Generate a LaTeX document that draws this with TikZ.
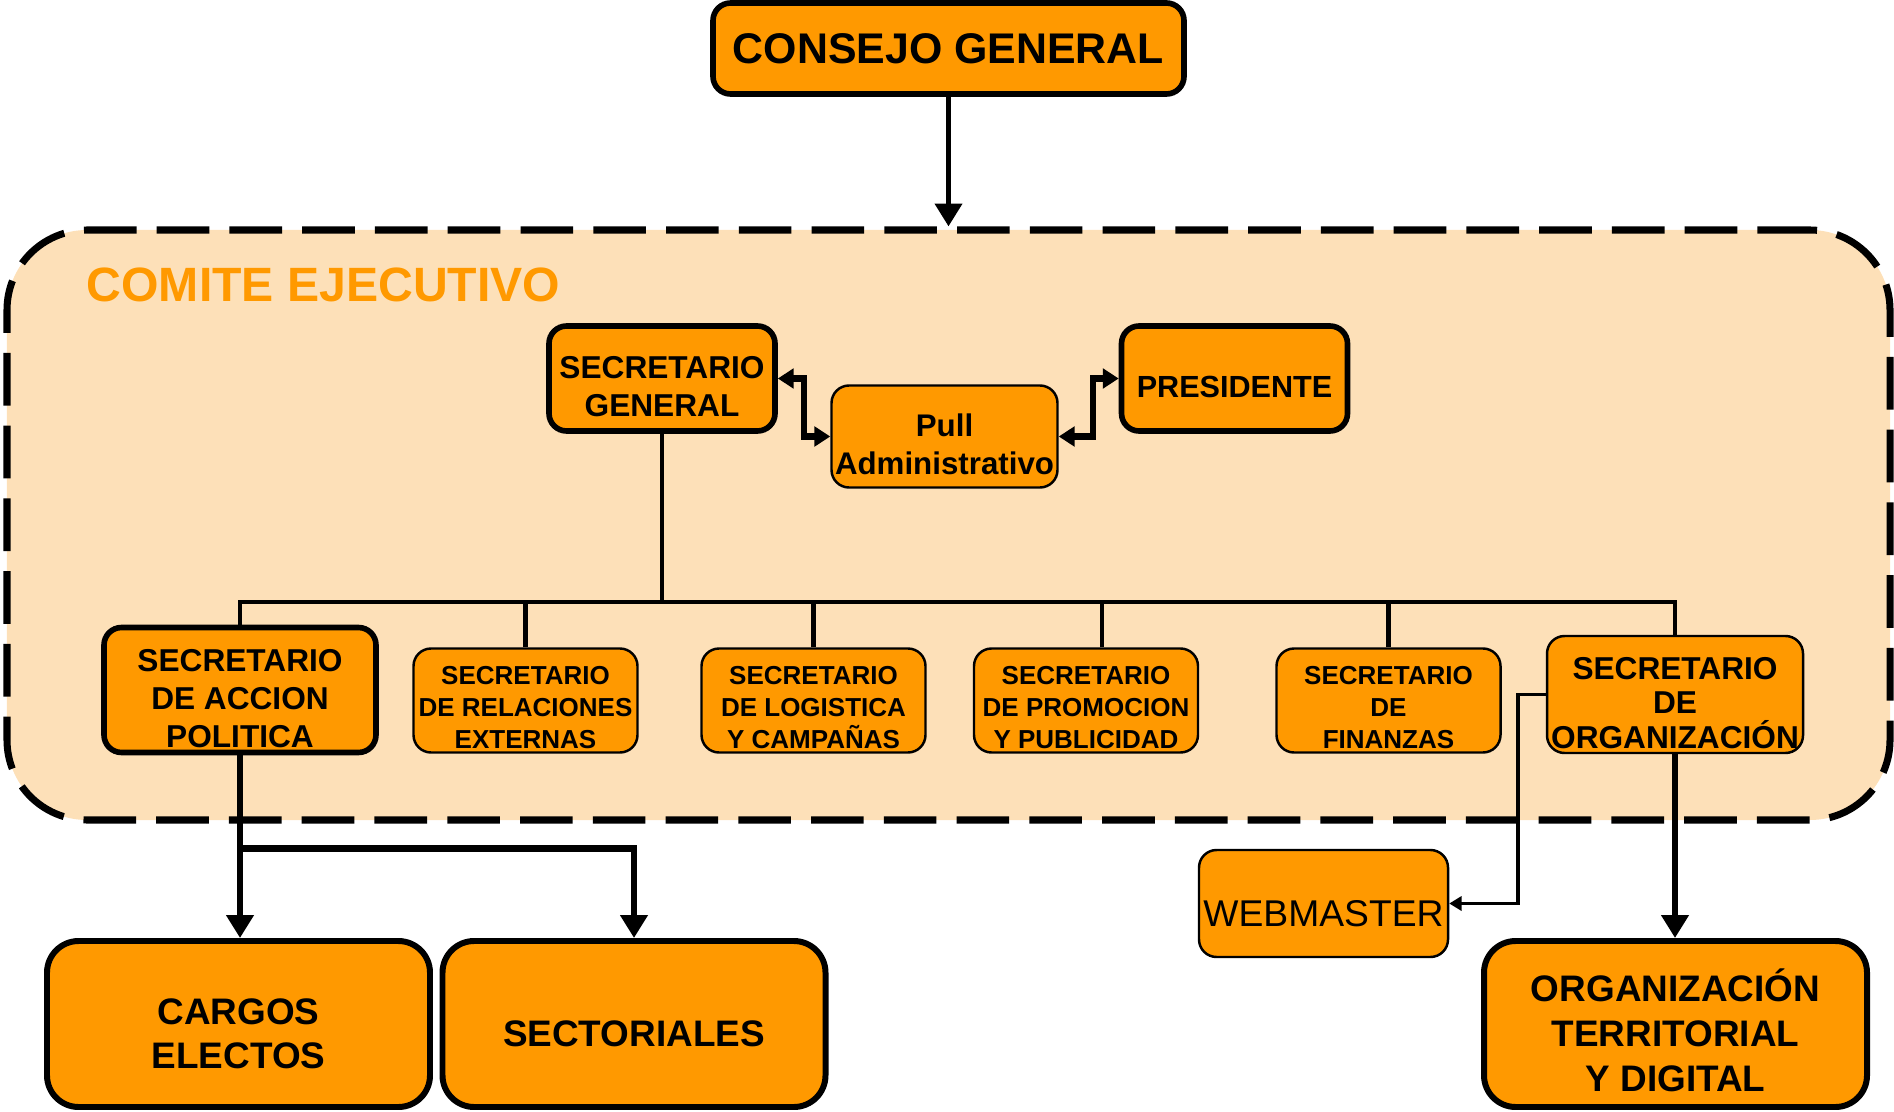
\documentclass[tikz,border=0pt]{standalone}
\usepackage{fontspec}
\setmainfont{Liberation Sans}
\usetikzlibrary{arrows.meta}
\definecolor{naranja}{RGB}{255,153,0}
\definecolor{fondo}{RGB}{253,224,184}
\newcommand{\bajar}{\rule{0pt}{1.22em}}
\tikzset{
	gruesa/.style={draw=black, line width=1.6pt, fill=naranja, rounded corners=5pt, inner sep=0pt, align=center, font=\bfseries},
	fina/.style={draw=black, line width=0.7pt, fill=naranja, rounded corners=5pt, inner sep=0pt, align=center, font=\bfseries},
	grande/.style={draw=black, line width=1.7pt, fill=naranja, rounded corners=9pt, inner sep=0pt, align=center, minimum width=3.83cm, minimum height=1.66cm},
	rama/.style={line width=1.4pt},
	flecha/.style={line width=1.9pt, -{Triangle[length=6.5pt,width=7.5pt]}},
	doble/.style={line width=1.8pt, {Triangle[length=4.5pt,width=5.5pt]}-{Triangle[length=4.5pt,width=5.5pt]}}
}
\begin{document}
	\begin{tikzpicture}
		\useasboundingbox (0,0) rectangle (18.94,-11.12);
		% comite ejecutivo
		\node[draw=black, fill=fondo, line width=2pt, dash pattern=on 15pt off 5.7pt, rounded corners=0.8cm, minimum width=18.83cm, minimum height=5.9cm] (comite) at (9.485,-5.25) {};
		\node[anchor=base west, inner sep=0pt, text=naranja, font=\bfseries\fontsize{13.7}{16}\selectfont] (titulo) at (0.86,-3.02) {COMITE EJECUTIVO};
		% arriba
		\node[gruesa, minimum width=4.71cm, minimum height=0.91cm, font=\bfseries\fontsize{12.2}{14}\selectfont] (consejo) at (9.485,-0.485) {CONSEJO GENERAL};
		\node[gruesa, minimum width=2.26cm, minimum height=1.05cm, font=\bfseries\fontsize{9}{10.7}\selectfont] (general) at (6.62,-3.785) {\bajar SECRETARIO\\GENERAL};
		\node[fina, minimum width=2.26cm, minimum height=1.02cm, font=\bfseries\fontsize{8.9}{11}\selectfont] (pull) at (9.445,-4.365) {\bajar Pull\\Administrativo};
		\node[gruesa, minimum width=2.26cm, minimum height=1.05cm, font=\bfseries\fontsize{8.7}{10.5}\selectfont] (presidente) at (12.345,-3.785) {\bajar PRESIDENTE};
		% secretarias
		\node[gruesa, minimum width=2.72cm, minimum height=1.25cm, font=\bfseries\fontsize{9}{10.8}\selectfont] (accion) at (2.40,-6.90) {\bajar SECRETARIO\\DE ACCION\\POLITICA};
		\node[fina, minimum width=2.24cm, minimum height=1.04cm, font=\bfseries\fontsize{7.4}{9.1}\selectfont] (relaciones) at (5.255,-7.005) {\bajar SECRETARIO\\DE RELACIONES\\EXTERNAS};
		\node[fina, minimum width=2.24cm, minimum height=1.04cm, font=\bfseries\fontsize{7.4}{9.1}\selectfont] (logistica) at (8.135,-7.005) {\bajar SECRETARIO\\DE LOGISTICA\\Y CAMPAÑAS};
		\node[fina, minimum width=2.24cm, minimum height=1.04cm, font=\bfseries\fontsize{7.4}{9.1}\selectfont] (promocion) at (10.86,-7.005) {\bajar SECRETARIO\\DE PROMOCION\\Y PUBLICIDAD};
		\node[fina, minimum width=2.24cm, minimum height=1.04cm, font=\bfseries\fontsize{7.4}{9.1}\selectfont] (finanzas) at (13.885,-7.005) {\bajar SECRETARIO\\DE\\FINANZAS};
		\node[fina, minimum width=2.56cm, minimum height=1.17cm, font=\bfseries\fontsize{9}{9.8}\selectfont] (organizacion) at (16.75,-6.945) {\bajar SECRETARIO\\DE\\ORGANIZACIÓN};
		% abajo
		\node[fina, minimum width=2.49cm, minimum height=1.07cm, font=\fontsize{10.6}{12}\selectfont] (webmaster) at (13.235,-9.035) {\bajar WEBMASTER};
		\node[grande, font=\bfseries\fontsize{10.5}{12.6}\selectfont] (cargos) at (2.385,-10.24) {\bajar CARGOS\\ELECTOS};
		\node[grande, font=\bfseries\fontsize{10.5}{12.6}\selectfont] (sectoriales) at (6.34,-10.24) {\bajar SECTORIALES};
		\node[grande, font=\bfseries\fontsize{10.5}{12.8}\selectfont] (territorial) at (16.755,-10.24) {\bajar ORGANIZACIÓN\\TERRITORIAL\\Y DIGITAL};
		% conexiones
		\coordinate (bus) at (6.62,-6.02);
		\draw[flecha, line width=1.6pt] (consejo.south) -- (consejo.south |- comite.north);
		\draw[doble] (general.east) -- ++(0.26,0) |- (pull.west);
		\draw[doble] (pull.east) -- ++(0.34,0) |- (presidente.west);
		\draw[rama] (general.south) -- (bus);
		\draw[rama] (accion.north) -- (accion.north |- bus) -- (organizacion.north |- bus) -- (organizacion.north);
		\draw[rama] (relaciones.north) -- (relaciones.north |- bus);
		\draw[rama] (logistica.north) -- (logistica.north |- bus);
		\draw[rama] ([xshift=0.16cm]promocion.north) -- ([xshift=0.16cm]promocion.north |- bus);
		\draw[rama] (finanzas.north) -- (finanzas.north |- bus);
		\draw[flecha] (accion.south) -- (accion.south |- cargos.north);
		\draw[flecha] ([yshift=-0.93cm]accion.south) -| (sectoriales.north);
		\draw[flecha] (organizacion.south) -- (organizacion.south |- territorial.north);
		\draw[line width=1pt, -{Triangle[length=3.5pt,width=4pt]}] (organizacion.west) -- ++(-0.28,0) |- (webmaster.east);
	\end{tikzpicture}
\end{document}
